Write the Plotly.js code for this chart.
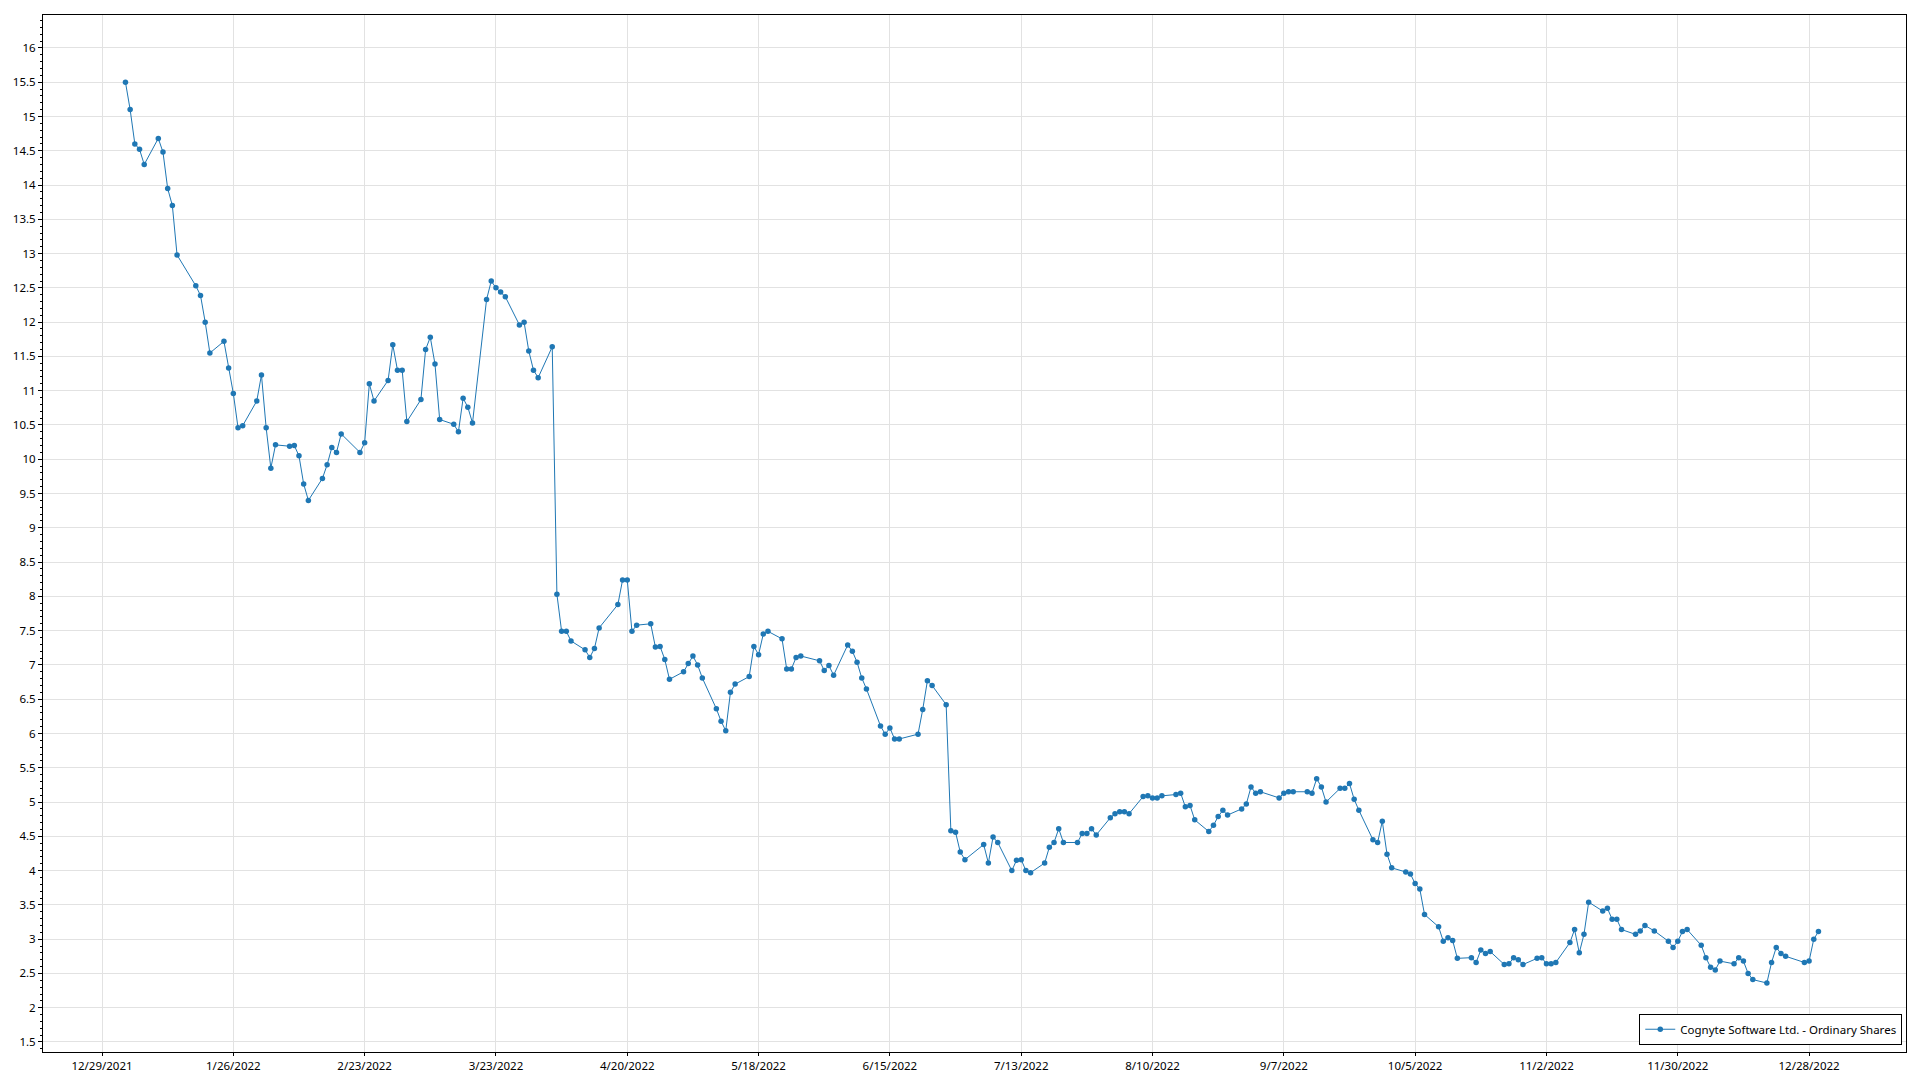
<!DOCTYPE html>
<html>
<head>
<meta charset="utf-8">
<script src="https://cdn.plot.ly/plotly-3.0.1.min.js"></script>
<style>
  html, body { margin: 0; padding: 0; background: #ffffff; }
  #chart { width: 1920px; height: 1080px; }
</style>
</head>
<body>
<div id="chart"></div>
<script>
const seriesName = 'Cognyte Software Ltd. - Ordinary Shares';

const tradeDates = [
  '2022-01-03','2022-01-04','2022-01-05','2022-01-06','2022-01-07','2022-01-10','2022-01-11','2022-01-12','2022-01-13','2022-01-14',
  '2022-01-18','2022-01-19','2022-01-20','2022-01-21','2022-01-24','2022-01-25','2022-01-26','2022-01-27','2022-01-28','2022-01-31',
  '2022-02-01','2022-02-02','2022-02-03','2022-02-04','2022-02-07','2022-02-08','2022-02-09','2022-02-10','2022-02-11','2022-02-14',
  '2022-02-15','2022-02-16','2022-02-17','2022-02-18','2022-02-22','2022-02-23','2022-02-24','2022-02-25','2022-02-28',
  '2022-03-01','2022-03-02','2022-03-03','2022-03-04','2022-03-07','2022-03-08','2022-03-09','2022-03-10','2022-03-11','2022-03-14',
  '2022-03-15','2022-03-16','2022-03-17','2022-03-18','2022-03-21','2022-03-22','2022-03-23','2022-03-24','2022-03-25','2022-03-28',
  '2022-03-29','2022-03-30','2022-03-31',
  '2022-04-01','2022-04-04','2022-04-05','2022-04-06','2022-04-07','2022-04-08','2022-04-11','2022-04-12','2022-04-13','2022-04-14',
  '2022-04-18','2022-04-19','2022-04-20','2022-04-21','2022-04-22','2022-04-25','2022-04-26','2022-04-27','2022-04-28','2022-04-29',
  '2022-05-02','2022-05-03','2022-05-04','2022-05-05','2022-05-06','2022-05-09','2022-05-10','2022-05-11','2022-05-12','2022-05-13',
  '2022-05-16','2022-05-17','2022-05-18','2022-05-19','2022-05-20','2022-05-23','2022-05-24','2022-05-25','2022-05-26','2022-05-27',
  '2022-05-31',
  '2022-06-01','2022-06-02','2022-06-03','2022-06-06','2022-06-07','2022-06-08','2022-06-09','2022-06-10','2022-06-13','2022-06-14',
  '2022-06-15','2022-06-16','2022-06-17','2022-06-21','2022-06-22','2022-06-23','2022-06-24','2022-06-27','2022-06-28','2022-06-29',
  '2022-06-30',
  '2022-07-01','2022-07-05','2022-07-06','2022-07-07','2022-07-08','2022-07-11','2022-07-12','2022-07-13','2022-07-14','2022-07-15',
  '2022-07-18','2022-07-19','2022-07-20','2022-07-21','2022-07-22','2022-07-25','2022-07-26','2022-07-27','2022-07-28','2022-07-29',
  '2022-08-01','2022-08-02','2022-08-03','2022-08-04','2022-08-05','2022-08-08','2022-08-09','2022-08-10','2022-08-11','2022-08-12',
  '2022-08-15','2022-08-16','2022-08-17','2022-08-18','2022-08-19','2022-08-22','2022-08-23','2022-08-24','2022-08-25','2022-08-26',
  '2022-08-29','2022-08-30','2022-08-31',
  '2022-09-01','2022-09-02','2022-09-06','2022-09-07','2022-09-08','2022-09-09','2022-09-12','2022-09-13','2022-09-14','2022-09-15',
  '2022-09-16','2022-09-19','2022-09-20','2022-09-21','2022-09-22','2022-09-23','2022-09-26','2022-09-27','2022-09-28','2022-09-29',
  '2022-09-30',
  '2022-10-03','2022-10-04','2022-10-05','2022-10-06','2022-10-07','2022-10-10','2022-10-11','2022-10-12','2022-10-13','2022-10-14',
  '2022-10-17','2022-10-18','2022-10-19','2022-10-20','2022-10-21','2022-10-24','2022-10-25','2022-10-26','2022-10-27','2022-10-28',
  '2022-10-31',
  '2022-11-01','2022-11-02','2022-11-03','2022-11-04','2022-11-07','2022-11-08','2022-11-09','2022-11-10','2022-11-11','2022-11-14',
  '2022-11-15','2022-11-16','2022-11-17','2022-11-18','2022-11-21','2022-11-22','2022-11-23','2022-11-25','2022-11-28','2022-11-29',
  '2022-11-30',
  '2022-12-01','2022-12-02','2022-12-05','2022-12-06','2022-12-07','2022-12-08','2022-12-09','2022-12-12','2022-12-13','2022-12-14',
  '2022-12-15','2022-12-16','2022-12-19','2022-12-20','2022-12-21','2022-12-22','2022-12-23','2022-12-27','2022-12-28','2022-12-29',
  '2022-12-30'
];

const closePrices = [
  // Jan
  15.5, 15.1, 14.6, 14.52, 14.3, 14.68, 14.48, 13.95, 13.7, 12.98,
  12.53, 12.39, 12.0, 11.55, 11.72, 11.33, 10.96, 10.46, 10.49, 10.85,
  // Feb
  11.23, 10.46, 9.87, 10.21, 10.19, 10.2, 10.05, 9.64, 9.4, 9.72,
  9.92, 10.17, 10.1, 10.37, 10.1, 10.24, 11.1, 10.85, 11.15,
  // Mar
  11.67, 11.3, 11.3, 10.55, 10.87, 11.6, 11.78, 11.39, 10.58, 10.51,
  10.4, 10.89, 10.76, 10.53, 12.33, 12.6, 12.5, 12.44, 12.37, 11.96,
  12.0, 11.58, 11.3,
  // Apr
  11.19, 11.64, 8.03, 7.49, 7.49, 7.35, 7.22, 7.11, 7.24, 7.54,
  7.88, 8.24, 8.24, 7.49, 7.58, 7.6, 7.26, 7.27, 7.08, 6.79,
  // May
  6.9, 7.02, 7.13, 7.0, 6.81, 6.36, 6.18, 6.04, 6.6, 6.72,
  6.83, 7.27, 7.15, 7.45, 7.49, 7.38, 6.94, 6.94, 7.11, 7.13,
  7.06,
  // Jun
  6.92, 6.99, 6.85, 7.29, 7.2, 7.04, 6.81, 6.65, 6.11, 5.99,
  6.08, 5.92, 5.92, 5.99, 6.35, 6.77, 6.7, 6.42, 4.58, 4.56,
  4.27,
  // Jul
  4.16, 4.38, 4.11, 4.49, 4.41, 4.0, 4.15, 4.16, 4.0, 3.97,
  4.11, 4.34, 4.41, 4.61, 4.41, 4.41, 4.54, 4.54, 4.61, 4.52,
  // Aug
  4.77, 4.83, 4.86, 4.86, 4.83, 5.08, 5.09, 5.06, 5.06, 5.09,
  5.11, 5.13, 4.93, 4.95, 4.74, 4.57, 4.66, 4.79, 4.88, 4.81,
  4.9, 4.97, 5.22,
  // Sep
  5.13, 5.15, 5.06, 5.13, 5.15, 5.15, 5.15, 5.13, 5.34, 5.22,
  5.0, 5.2, 5.2, 5.27, 5.04, 4.88, 4.45, 4.41, 4.72, 4.24,
  4.04,
  // Oct
  3.98, 3.95, 3.81, 3.73, 3.36, 3.18, 2.97, 3.02, 2.98, 2.72,
  2.73, 2.66, 2.84, 2.79, 2.82, 2.63, 2.64, 2.73, 2.7, 2.63,
  2.72,
  // Nov
  2.73, 2.64, 2.64, 2.66, 2.95, 3.14, 2.8, 3.07, 3.54, 3.41,
  3.45, 3.29, 3.29, 3.14, 3.07, 3.12, 3.2, 3.12, 2.97, 2.88,
  2.97,
  // Dec
  3.11, 3.14, 2.91, 2.73, 2.59, 2.55, 2.68, 2.64, 2.73, 2.68,
  2.5, 2.41, 2.36, 2.66, 2.88, 2.79, 2.75, 2.66, 2.68, 3.0,
  3.11
];

const yTickVals = [1.5,2,2.5,3,3.5,4,4.5,5,5.5,6,6.5,7,7.5,8,8.5,9,9.5,10,10.5,11,11.5,12,12.5,13,13.5,14,14.5,15,15.5,16];
const yTickText = ['1.5','2','2.5','3','3.5','4','4.5','5','5.5','6','6.5','7','7.5','8','8.5','9','9.5','10','10.5','11','11.5','12','12.5','13','13.5','14','14.5','15','15.5','16'];

const lineColor = '#1f77b4';
const fontFamily = '"Segoe UI", "Noto Sans", "Open Sans", sans-serif';

const trace = {
  type: 'scatter',
  mode: 'lines+markers',
  name: seriesName,
  x: tradeDates,
  y: closePrices,
  line: { color: lineColor, width: 1 },
  marker: { color: lineColor, size: 5.5, symbol: 'circle' },
  showlegend: true
};

const layout = {
  width: 1920,
  height: 1080,
  paper_bgcolor: '#ffffff',
  plot_bgcolor: '#ffffff',
  margin: { l: 43, r: 14, t: 15, b: 28, pad: 0 },
  font: { family: fontFamily, size: 11.5, color: '#000000' },
  showlegend: true,
  legend: {
    x: 0.998, xanchor: 'right',
    y: 0.007, yanchor: 'bottom',
    bgcolor: '#ffffff',
    bordercolor: '#000000',
    borderwidth: 1,
    font: { family: fontFamily, size: 11.5, color: '#000000' },
    itemwidth: 30,
    tracegroupgap: 0
  },
  xaxis: {
    type: 'date',
    range: ['2021-12-16 10:00', '2023-01-17 16:00'],
    tick0: '2021-12-29',
    dtick: 28 * 86400000,
    tickformat: '%-m/%-d/%Y',
    ticks: 'outside',
    ticklen: 3,
    tickcolor: '#000000',
    showgrid: true,
    gridcolor: '#e2e2e2',
    gridwidth: 1,
    zeroline: false,
    showline: true,
    linecolor: '#000000',
    linewidth: 1,
    mirror: true,
    automargin: false,
    fixedrange: true
  },
  yaxis: {
    range: [1.354, 16.48],
    tickmode: 'array',
    tickvals: yTickVals,
    ticktext: yTickText,
    ticks: 'outside',
    ticklen: 4,
    tickcolor: '#000000',
    minor: { ticks: 'outside', ticklen: 2, dtick: 0.1, tickcolor: '#000000', showgrid: false },
    showgrid: true,
    gridcolor: '#e2e2e2',
    gridwidth: 1,
    zeroline: false,
    showline: true,
    linecolor: '#000000',
    linewidth: 1,
    mirror: true,
    automargin: false,
    fixedrange: true
  }
};

Plotly.newPlot('chart', [trace], layout, { displayModeBar: false, staticPlot: true });
</script>
</body>
</html>
